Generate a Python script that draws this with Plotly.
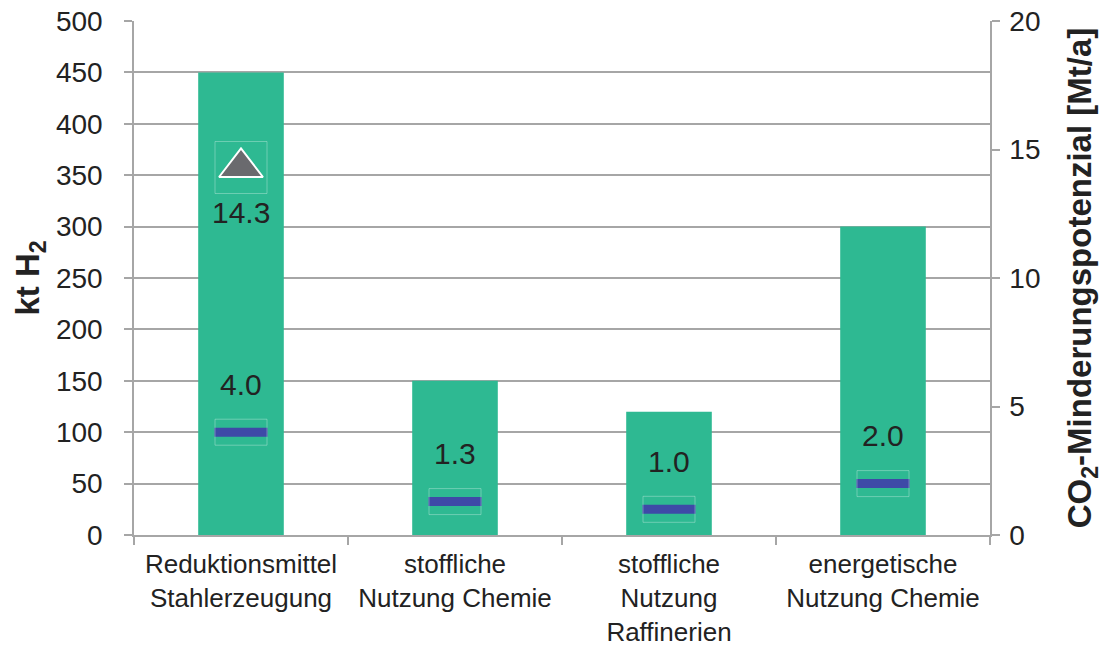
import plotly.graph_objects as go

categories = ["Reduktionsmittel<br>Stahlerzeugung", "stoffliche<br>Nutzung Chemie",
              "stoffliche<br>Nutzung<br>Raffinerien", "energetische<br>Nutzung Chemie"]
h2_demand = [450, 150, 120, 300]            # kt H2 (left axis)
co2_dash = [4.0, 1.3, 1.0, 2.0]             # Mt/a (right axis)
co2_triangle = [14.3, None, None, None]     # Mt/a (right axis)

FONT = "Liberation Sans, Arial, sans-serif"
GRID = "#a6a6a6"

fig = go.Figure()
fig.add_trace(go.Bar(x=categories, y=h2_demand, width=0.4,
                     marker=dict(color="#2eb992", line=dict(width=0)),
                     showlegend=False, hoverinfo="skip"))

# marker boxes
shapes = []
for i, v in enumerate(co2_dash):
    shapes.append(dict(type="rect", xref="x", yref="y2", xsizemode="pixel", ysizemode="pixel",
                       xanchor=i, yanchor=v, x0=-26, x1=26, y0=-13, y1=13,
                       line=dict(color="rgba(255,255,255,0.3)", width=1), layer="above"))
for i, v in enumerate(co2_triangle):
    if v is not None:
        shapes.append(dict(type="rect", xref="x", yref="y2", xsizemode="pixel", ysizemode="pixel",
                           xanchor=i, yanchor=v, x0=-26, x1=26, y0=-26, y1=26,
                           line=dict(color="rgba(255,255,255,0.3)", width=1), layer="above"))

fig.add_trace(go.Scatter(x=categories, y=co2_dash, yaxis="y2", mode="markers",
                         marker=dict(symbol="line-ew", size=38,
                                     line=dict(color="#3e4aa7", width=9)),
                         showlegend=False, hoverinfo="skip"))
fig.add_trace(go.Scatter(x=categories, y=co2_triangle, yaxis="y2", mode="markers",
                         marker=dict(symbol="triangle-up", size=38, color="#6a6a6e",
                                     line=dict(color="white", width=2)),
                         showlegend=False, hoverinfo="skip"))

annotations = []
for i, v in enumerate(co2_dash):
    annotations.append(dict(x=i, y=v, xref="x", yref="y2", text=f"{v:.1f}", showarrow=False,
                            yshift=48, font=dict(family=FONT, size=30, color="#222222")))
for i, v in enumerate(co2_triangle):
    if v is not None:
        annotations.append(dict(x=i, y=v, xref="x", yref="y2", text=f"{v:.1f}", showarrow=False,
                                yshift=-45, font=dict(family=FONT, size=30, color="#222222")))

fig.update_layout(
    width=1106, height=646,
    margin=dict(l=134, r=116, t=21, b=111),
    paper_bgcolor="white", plot_bgcolor="white",
    font=dict(family=FONT, size=27, color="#222222"),
    bargap=0.6,
    shapes=shapes, annotations=annotations,
    xaxis=dict(type="category", tickson="boundaries", ticks="outside", ticklen=8,
               tickcolor=GRID, tickwidth=1.5, showline=True, linecolor=GRID, linewidth=1.5,
               showgrid=False, tickfont=dict(size=26), range=[-0.5, 3.5],
               ticklabelstandoff=5, automargin=False),
    yaxis=dict(range=[0, 500], dtick=50, ticks="outside", ticklen=8, tickcolor=GRID,
               tickwidth=1.5, showline=True, linecolor=GRID, linewidth=1.5,
               showgrid=True, gridcolor=GRID, gridwidth=1.5, zeroline=False,
               tickfont=dict(size=28), ticklabelstandoff=16, automargin=False,
               title=dict(text="<b>kt H<sub>2</sub></b>", font=dict(size=33), standoff=6)),
    yaxis2=dict(range=[0, 20], dtick=5, overlaying="y", side="right", ticks="outside",
                ticklen=8, tickcolor=GRID, tickwidth=1.5, showline=True, linecolor=GRID,
                linewidth=1.5, showgrid=False, zeroline=False, tickfont=dict(size=28),
                ticklabelstandoff=4, automargin=False,
                title=dict(text="<b>CO<sub>2</sub>-Minderungspotenzial [Mt/a]</b>",
                           font=dict(size=33), standoff=28)),
)

fig.write_html("out.html")
